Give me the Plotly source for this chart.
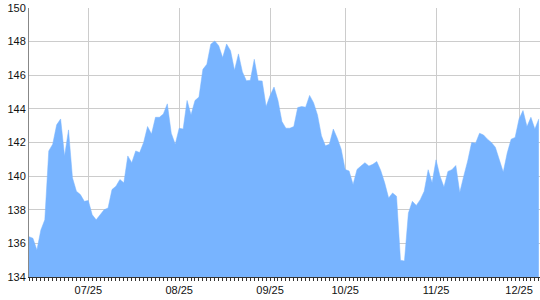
import plotly.graph_objects as go

values = [
    136.4, 136.3, 135.6, 136.8, 137.4, 141.5, 141.9, 143.05, 143.4, 141.2,
    142.75, 139.9, 139.1, 138.9, 138.5, 138.55, 137.7, 137.4, 137.7, 138.0,
    138.1, 139.2, 139.4, 139.8, 139.6, 141.2, 140.8, 141.5, 141.4, 142.0,
    142.95, 142.5, 143.5, 143.5, 143.7, 144.3, 142.55, 141.9, 142.85, 142.8,
    144.5, 143.65, 144.5, 144.7, 146.35, 146.65, 147.85, 148.04, 147.76, 147.05,
    147.86, 147.46, 146.3, 147.27, 146.2, 145.68, 145.7, 146.95, 145.68, 145.66,
    144.14, 144.8, 145.3, 144.5, 143.25, 142.85, 142.85, 142.95, 144.08, 144.14,
    144.1, 144.8, 144.37, 143.64, 142.4, 141.8, 141.9, 142.8, 142.26, 141.6,
    140.4, 140.3, 139.5, 140.4, 140.6, 140.8, 140.6, 140.7, 140.87, 140.34,
    139.6, 138.7, 139.0, 138.8, 135.0, 134.95, 137.8, 138.5, 138.26, 138.6,
    139.1, 140.38, 139.6, 140.97, 140.0, 139.35, 140.28, 140.38, 140.63, 139.03,
    140.0, 140.9, 142.0, 141.96, 142.55, 142.45, 142.2, 142.0, 141.72, 140.9,
    140.24, 141.37, 142.2, 142.3, 143.4, 143.9, 142.95, 143.5, 142.8, 143.4,
]
x_index = list(range(len(values)))

tick_positions = [15, 38, 61, 80, 103, 124]
tick_labels = ["07/25", "08/25", "09/25", "10/25", "11/25", "12/25"]

y_ticks = [134, 136, 138, 140, 142, 144, 146, 148, 150]

fill_color = "#78b4ff"

fig = go.Figure(
    go.Scatter(
        x=x_index,
        y=values,
        mode="lines",
        line=dict(color=fill_color, width=0.5),
        fill="tozeroy",
        fillcolor=fill_color,
        hoverinfo="skip",
    )
)

fig.update_layout(
    width=540,
    height=300,
    margin=dict(l=29, r=0, t=8, b=23),
    paper_bgcolor="white",
    plot_bgcolor="white",
    showlegend=False,
    font=dict(family="Liberation Sans, Arial, sans-serif", size=11, color="#111"),
)

fig.update_xaxes(
    range=[0, len(values) - 0.7],
    tickmode="array",
    tickvals=tick_positions,
    ticktext=tick_labels,
    showgrid=True,
    gridcolor="#cccccc",
    gridwidth=1,
    showline=True,
    linecolor="#333",
    linewidth=1,
    ticks="outside",
    ticklen=3,
    tickcolor="#333",
    minor=dict(ticks="outside", ticklen=3, tickcolor="#333", dtick=1, tick0=0, showgrid=False),
    zeroline=False,
    fixedrange=True,
)

fig.update_yaxes(
    range=[134, 150],
    tickmode="array",
    tickvals=y_ticks,
    showgrid=True,
    gridcolor="#cccccc",
    gridwidth=1,
    showline=True,
    linecolor="#888",
    linewidth=1,
    ticks="",
    zeroline=False,
    fixedrange=True,
)

fig.write_html("out.html", config={"displayModeBar": False})
